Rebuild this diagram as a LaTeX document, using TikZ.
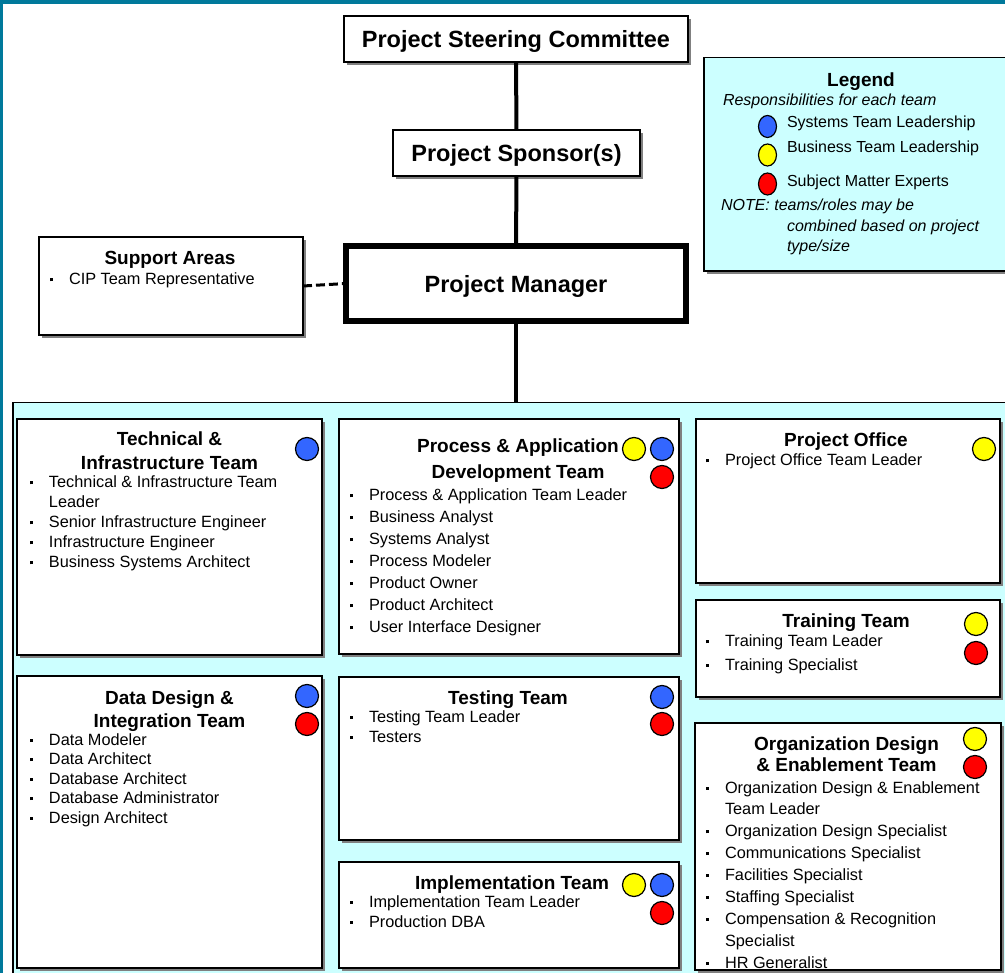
\documentclass[tikz,border=0pt]{standalone}
\usepackage{fontspec}
\setmainfont{Liberation Sans}
\usetikzlibrary{shapes.geometric,shadows}
\definecolor{frameteal}{HTML}{00799B}
\definecolor{panelcyan}{HTML}{CCFFFF}
\definecolor{shadowgray}{HTML}{808080}
\definecolor{sysblue}{HTML}{3366FF}
\definecolor{bizyellow}{HTML}{FFFF00}
\definecolor{smered}{HTML}{FF0000}
\newcommand{\mainsz}{\fontsize{23.5}{28}\selectfont\bfseries}
\newcommand{\titlesz}[1]{\fontsize{19}{#1}\selectfont\bfseries}
\newcommand{\itemsz}[1]{\fontsize{16.3}{#1}\selectfont}
\newcommand{\legsz}{\fontsize{16}{19}\selectfont}
\newcommand{\bul}{\makebox[19pt][l]{\rule[3.5pt]{3pt}{3pt}}}
\begin{document}
\begin{tikzpicture}[x=1pt,y=-1pt,
  every node/.style={inner sep=0pt,outer sep=0pt},
  shadowed/.style={drop shadow={shadow xshift=3pt,shadow yshift=-3pt,fill=shadowgray,opacity=1}},
  mainbox/.style={anchor=north west,draw=black,line width=2pt,fill=white,shadowed,font=\mainsz,text height=18pt,text depth=0pt},
  panel/.style={anchor=north west,draw=black,line width=1.5pt,fill=panelcyan},
  teambox/.style={anchor=north west,draw=black,line width=2pt,fill=white,shadowed},
  badge/.style={circle,draw=black,line width=1.2pt,minimum size=23pt},
  legbadge/.style={ellipse,draw=black,line width=1.2pt,minimum width=18pt,minimum height=22pt},
  teamtitle/.style={anchor=north,font=\titlesz{24}},
  onetitle/.style={anchor=base,font=\titlesz{24}},
  itemlist/.style={anchor=north west},
  legtext/.style={anchor=base west,font=\legsz},
  vline/.style={line width=4pt},
  dashlink/.style={line width=3pt,dash pattern=on 9pt off 4pt}
]
\useasboundingbox (0,0) rectangle (1005,973);
\clip (0,0) rectangle (1005,973);
\fill[white] (0,0) rectangle (1005,973);

% outer frame
\fill[frameteal] (0,0) rectangle (1005,4);
\fill[frameteal] (0,0) rectangle (3,973);

% cyan panel holding the teams
\node[panel,minimum width=1000,minimum height=590] (teams) at (12.75,402.75) {};

% legend
\node[panel,shadowed,minimum width=320,minimum height=213.5] (legend) at (703.75,57.75) {};
\node[onetitle] (legend-title) at (861,87) {Legend};
\node[legtext,font=\legsz\itshape] (legend-sub) at (723,106) {Responsibilities for each team};
\node[legbadge,fill=sysblue] (leg-blue) at (767.5,126.5) {};
\node[legbadge,fill=bizyellow] (leg-yellow) at (767.5,155) {};
\node[legbadge,fill=smered] (leg-red) at (767.5,184) {};
\node[legtext] (leg-sys) at (787,128) {Systems Team Leadership};
\node[legtext] (leg-biz) at (787,153) {Business Team Leadership};
\node[legtext] (leg-sme) at (787,187) {Subject Matter Experts};
\node[legtext,font=\legsz\itshape] (leg-note1) at (721,211) {NOTE: teams/roles may be};
\node[legtext,font=\legsz\itshape] (leg-note2) at (787,232) {combined based on project};
\node[legtext,font=\legsz\itshape] (leg-note3) at (787,252) {type/size};

% governance chain
\node[mainbox,minimum width=344,minimum height=46] (steer) at (344,16) {Project Steering Committee};
\node[mainbox,minimum width=247,minimum height=46] (sponsor) at (393,130) {Project Sponsor(s)};
\node[mainbox,line width=6pt,minimum width=340,minimum height=75] (pm) at (346,246) {Project Manager};
\node[teambox,minimum width=264,minimum height=98] (support) at (39,237) {};
\node[onetitle] (support-title) at (170,265) {Support Areas};
\node[itemlist,font=\itemsz{20}] (support-list) at (50,271) {\begin{tabular}{@{}l@{}l@{}}\bul&CIP Team Representative\end{tabular}};

\draw[vline] (steer.south) -- (sponsor.north);
\draw[vline] (sponsor.south) -- (pm.north);
\draw[vline] (pm.south) -- (pm.south |- teams.north);
\draw[dashlink] (support.east) -- (pm.west);

% Technical & Infrastructure
\node[teambox,minimum width=305,minimum height=236] (tech) at (17,419) {};
\node[teamtitle] (tech-title) at (169.5,429.2) {\begin{tabular}{@{}c@{}}Technical \&\\Infrastructure Team\end{tabular}};
\node[badge,fill=sysblue] (tech-b) at (307,449) {};
\node[itemlist,font=\itemsz{20}] (tech-list) at (30,474) {\begin{tabular}{@{}l@{}l@{}}
\bul&Technical \& Infrastructure Team\\
&Leader\\
\bul&Senior Infrastructure Engineer\\
\bul&Infrastructure Engineer\\
\bul&Business Systems Architect\end{tabular}};

% Process & Application Development
\node[teambox,minimum width=340,minimum height=235] (proc) at (339,419) {};
\node[teamtitle,font=\titlesz{26.5}] (proc-title) at (518,433.5) {\begin{tabular}{@{}c@{}}Process \& Application\\Development Team\end{tabular}};
\node[badge,fill=bizyellow] (proc-y) at (634,449) {};
\node[badge,fill=sysblue] (proc-b) at (662,449) {};
\node[badge,fill=smered] (proc-r) at (662,477) {};
\node[itemlist,font=\itemsz{22}] (proc-list) at (350,485.6) {\begin{tabular}{@{}l@{}l@{}}
\bul&Process \& Application Team Leader\\
\bul&Business Analyst\\
\bul&Systems Analyst\\
\bul&Process Modeler\\
\bul&Product Owner\\
\bul&Product Architect\\
\bul&User Interface Designer\end{tabular}};

% Project Office
\node[teambox,minimum width=304,minimum height=164] (office) at (696,419) {};
\node[onetitle] (office-title) at (846,447) {Project Office};
\node[badge,fill=bizyellow] (office-y) at (984,449) {};
\node[itemlist,font=\itemsz{20}] (office-list) at (706,452) {\begin{tabular}{@{}l@{}l@{}}\bul&Project Office Team Leader\end{tabular}};

% Training
\node[teambox,minimum width=304,minimum height=97] (train) at (696,600) {};
\node[onetitle] (train-title) at (846,627) {Training Team};
\node[badge,fill=bizyellow] (train-y) at (976,624) {};
\node[badge,fill=smered] (train-r) at (976,653) {};
\node[itemlist,font=\itemsz{23.5}] (train-list) at (706,630.5) {\begin{tabular}{@{}l@{}l@{}}
\bul&Training Team Leader\\
\bul&Training Specialist\end{tabular}};

% Data Design & Integration
\node[teambox,minimum width=305,minimum height=292] (data) at (17,676) {};
\node[teamtitle,font=\titlesz{23}] (data-title) at (169.5,687.9) {\begin{tabular}{@{}c@{}}Data Design \&\\Integration Team\end{tabular}};
\node[badge,fill=sysblue] (data-b) at (307,696) {};
\node[badge,fill=smered] (data-r) at (307,724) {};
\node[itemlist,font=\itemsz{19.5}] (data-list) at (30,731.4) {\begin{tabular}{@{}l@{}l@{}}
\bul&Data Modeler\\
\bul&Data Architect\\
\bul&Database Architect\\
\bul&Database Administrator\\
\bul&Design Architect\end{tabular}};

% Testing
\node[teambox,minimum width=340,minimum height=163] (test) at (339,677) {};
\node[onetitle] (test-title) at (508,704) {Testing Team};
\node[badge,fill=sysblue] (test-b) at (662,697) {};
\node[badge,fill=smered] (test-r) at (662,724) {};
\node[itemlist,font=\itemsz{20}] (test-list) at (350,708) {\begin{tabular}{@{}l@{}l@{}}
\bul&Testing Team Leader\\
\bul&Testers\end{tabular}};

% Implementation
\node[teambox,minimum width=340,minimum height=106] (impl) at (339,862) {};
\node[onetitle] (impl-title) at (512,889) {Implementation Team};
\node[badge,fill=bizyellow] (impl-y) at (634,885) {};
\node[badge,fill=sysblue] (impl-b) at (662,885) {};
\node[badge,fill=smered] (impl-r) at (662,913) {};
\node[itemlist,font=\itemsz{20}] (impl-list) at (350,893) {\begin{tabular}{@{}l@{}l@{}}
\bul&Implementation Team Leader\\
\bul&Production DBA\end{tabular}};

% Organization Design & Enablement
\node[teambox,minimum width=306,minimum height=247] (org) at (695,723) {};
\node[teamtitle,font=\titlesz{21}] (org-title) at (846.5,735.3) {\begin{tabular}{@{}c@{}}Organization Design\\\& Enablement Team\end{tabular}};
\node[badge,fill=bizyellow] (org-y) at (975,739) {};
\node[badge,fill=smered] (org-r) at (975,767) {};
\node[itemlist,font=\itemsz{21.9}] (org-list) at (706,777.7) {\begin{tabular}{@{}l@{}l@{}}
\bul&Organization Design \& Enablement\\
&Team Leader\\
\bul&Organization Design Specialist\\
\bul&Communications Specialist\\
\bul&Facilities Specialist\\
\bul&Staffing Specialist\\
\bul&Compensation \& Recognition\\
&Specialist\\
\bul&HR Generalist\end{tabular}};
\end{tikzpicture}
\end{document}
